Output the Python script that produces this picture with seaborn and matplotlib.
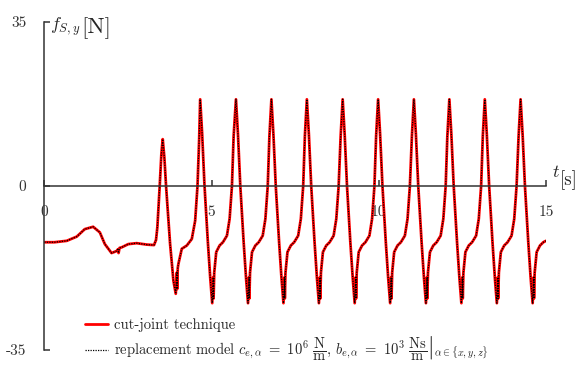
import seaborn as sns
import matplotlib
import matplotlib.pyplot as plt
import pandas as pd
import numpy as np

# time [s] and force [N]
t_start = [0.00, 0.30, 0.67, 0.97, 1.21, 1.46, 1.66, 1.81, 2.01, 2.12, 2.18, 2.20,
           2.22, 2.25, 2.31, 2.51, 2.76, 3.06, 3.28, 3.34, 3.38, 3.45, 3.50, 3.54,
           3.59, 3.64, 3.76, 3.86, 3.93, 3.96, 3.97, 3.99, 4.01, 4.11, 4.26, 4.41,
           4.51, 4.58, 4.63]
f_start = [-12.0, -12.0, -11.7, -10.8, -9.2, -8.7, -9.9, -12.4, -14.3, -14.0, -13.8, -13.5,
           -14.3, -13.2, -13.1, -12.4, -12.2, -12.5, -12.6, -11.5, -8.8, 0.0, 6.8, 10.0,
           6.0, 0.0, -12.3, -20.2, -23.0, -18.5, -22.0, -17.5, -16.6, -13.4, -12.7, -11.3,
           -7.4, 0.0, 10.0]

t_cycles = [
    4.66, 4.72, 4.79, 4.89, 4.96, 5.02, 5.05, 5.06, 5.08, 5.14, 5.24, 5.34, 5.46, 5.54, 5.61, 5.66,
    5.73, 5.79, 5.86, 5.96, 6.03, 6.09, 6.12, 6.13, 6.15, 6.21, 6.31, 6.41, 6.53, 6.61, 6.68, 6.73,
    6.79, 6.85, 6.92, 7.02, 7.09, 7.15, 7.18, 7.19, 7.21, 7.27, 7.37, 7.47, 7.59, 7.67, 7.74, 7.79,
    7.85, 7.91, 7.98, 8.08, 8.15, 8.21, 8.24, 8.25, 8.27, 8.33, 8.43, 8.53, 8.65, 8.73, 8.80, 8.86,
    8.92, 8.98, 9.05, 9.15, 9.22, 9.28, 9.31, 9.32, 9.34, 9.40, 9.50, 9.60, 9.72, 9.80, 9.87, 9.92,
    9.98, 10.04, 10.11, 10.21, 10.28, 10.34, 10.37, 10.38, 10.40, 10.46, 10.56, 10.66, 10.78, 10.86, 10.93, 10.99,
    11.05, 11.11, 11.18, 11.28, 11.35, 11.41, 11.44, 11.45, 11.47, 11.53, 11.63, 11.73, 11.85, 11.93, 12.00, 12.05,
    12.11, 12.17, 12.24, 12.34, 12.41, 12.47, 12.50, 12.51, 12.53, 12.59, 12.69, 12.79, 12.91, 12.99, 13.06, 13.11,
    13.17, 13.23, 13.30, 13.40, 13.47, 13.53, 13.56, 13.57, 13.59, 13.65, 13.75, 13.85, 13.97, 14.05, 14.12, 14.18,
    14.24, 14.30, 14.37, 14.47, 14.54, 14.60, 14.63, 14.64, 14.66, 14.72, 14.82, 14.92, 15.00,
]
f_cycles = [
    18.5, 11.0, 0.0, -12.0, -19.5, -25.0, -19.5, -24.0, -18.5, -14.1, -12.7, -12.0, -10.6, -7.0, 0.0, 10.6,
    18.5, 11.0, 0.0, -12.0, -19.5, -25.0, -19.5, -24.0, -18.5, -14.1, -12.7, -12.0, -10.6, -7.0, 0.0, 10.6,
    18.5, 11.0, 0.0, -12.0, -19.5, -25.0, -19.5, -24.0, -18.5, -14.1, -12.7, -12.0, -10.6, -7.0, 0.0, 10.6,
    18.5, 11.0, 0.0, -12.0, -19.5, -25.0, -19.5, -24.0, -18.5, -14.1, -12.7, -12.0, -10.6, -7.0, 0.0, 10.6,
    18.5, 11.0, 0.0, -12.0, -19.5, -25.0, -19.5, -24.0, -18.5, -14.1, -12.7, -12.0, -10.6, -7.0, 0.0, 10.6,
    18.5, 11.0, 0.0, -12.0, -19.5, -25.0, -19.5, -24.0, -18.5, -14.1, -12.7, -12.0, -10.6, -7.0, 0.0, 10.6,
    18.5, 11.0, 0.0, -12.0, -19.5, -25.0, -19.5, -24.0, -18.5, -14.1, -12.7, -12.0, -10.6, -7.0, 0.0, 10.6,
    18.5, 11.0, 0.0, -12.0, -19.5, -25.0, -19.5, -24.0, -18.5, -14.1, -12.7, -12.0, -10.6, -7.0, 0.0, 10.6,
    18.5, 11.0, 0.0, -12.0, -19.5, -25.0, -19.5, -24.0, -18.5, -14.1, -12.7, -12.0, -10.6, -7.0, 0.0, 10.6,
    18.5, 11.0, 0.0, -12.0, -19.5, -25.0, -19.5, -24.0, -18.5, -14.1, -12.7, -12.0, -11.7,
]

x_ticks = [0, 5, 10, 15]
y_ticks = [-35, 0, 35]
y_tick_labels = ["-35", "0", "35"]

label_cut = "cut-joint technique"
label_repl = (r"replacement model $c_{e,\alpha}\ =\ 10^6\ \dfrac{\mathrm{N}}{\mathrm{m}},"
              r"\,b_{e,\alpha}\ =\ 10^3\ \left.\dfrac{\mathrm{Ns}}{\mathrm{m}}\right|_{\alpha\in\{x,y,z\}}$")

sns.set_style("white")
plt.rcParams.update(
    {
        "font.family": ["cmr10", "DejaVu Serif"],
        "mathtext.fontset": "cm",
        "axes.unicode_minus": False,
        "axes.formatter.use_mathtext": True,
        "font.size": 10,
        "axes.edgecolor": "#333333",
        "xtick.color": "#333333",
        "ytick.color": "#333333",
        "xtick.bottom": True,
        "ytick.left": True,
    }
)

t_all = t_start + t_cycles
f_cut = f_start + f_cycles
f_repl = list(f_cut)  # both models lie on top of each other
df = pd.DataFrame({"t": t_all, "cut": f_cut, "repl": f_repl})

fig = plt.figure(figsize=(5.8, 3.79), dpi=100)
ax = fig.add_axes([0.0764, 0.0765, 0.865, 0.8654])

sns.lineplot(ax=ax, data=df, x="t", y="cut", color="#ff0000", lw=2.0,
             sort=False, estimator=None, label=label_cut)
sns.lineplot(ax=ax, data=df, x="t", y="repl", color="black", lw=0.9,
             linestyle=(0, (1, 1)), sort=False, estimator=None, label=label_repl)

ax.set_xlim(0, 15)
ax.set_ylim(-35, 35)
ax.spines["top"].set_visible(False)
ax.spines["right"].set_visible(False)
ax.spines["left"].set_position(("data", 0))
ax.spines["bottom"].set_position(("data", 0))
for s in ["left", "bottom"]:
    ax.spines[s].set_linewidth(1.1)

ax.set_xticks(x_ticks)
ax.set_xticklabels([str(v) for v in x_ticks])
ax.set_yticks(y_ticks)
ax.set_yticklabels(y_tick_labels)
ax.tick_params(axis="x", bottom=True, direction="in", length=4, width=1.1, pad=14, labelsize=11)
ax.tick_params(axis="y", left=True, direction="in", length=4, width=1.1, pad=13, labelsize=11)
ax.set_xlabel("")
ax.set_ylabel("")

# axis names
ax.text(0.17, 33.3, r"$f_{S,y}$", fontsize=13, ha="left", va="baseline", clip_on=False)
ax.text(1.10, 32.6, "[N]", fontsize=16.5, ha="left", va="baseline", clip_on=False)
ax.text(15.17, 1.9, r"$t$", fontsize=13, ha="left", va="baseline", clip_on=False)
ax.text(15.42, 0.2, "[s]", fontsize=13.5, ha="left", va="baseline", clip_on=False)

ax.legend_.remove()
leg = fig.legend(
    handles=ax.get_lines()[:2],
    labels=[label_cut, label_repl],
    loc="upper left",
    bbox_to_anchor=(85 / 580, 1 - 318 / 379),
    frameon=False,
    fontsize=10.5,
    borderpad=0,
    borderaxespad=0,
    handlelength=1.6,
    handletextpad=0.4,
    labelspacing=0.2,
)

fig.savefig("out.png", dpi=100)
